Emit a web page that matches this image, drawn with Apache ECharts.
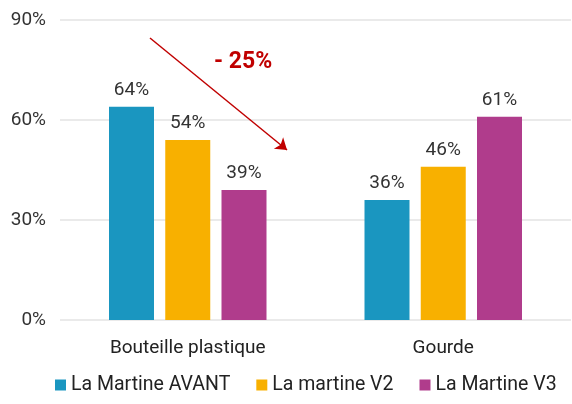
<!DOCTYPE html>
<html>
<head>
<meta charset="utf-8">
<script src="https://cdn.jsdelivr.net/npm/echarts@6/dist/echarts.min.js"></script>
<style>
  html, body {margin: 0; padding: 0; background: #fff;}
  #chart {width: 572px; height: 404px;}
</style>
</head>
<body>
<div id="chart"></div>
<script>
const categories = ['Bouteille plastique', 'Gourde']
const avant = [64, 36]
const v2 = [54, 46]
const v3 = [39, 61]
const yTicks = [0, 30, 60, 90]

const font = 'Roboto'
const myChart = echarts.init(document.getElementById('chart'))

function barSeries(name, data, color) {
  return {
    name: name,
    type: 'bar',
    data: data,
    barWidth: 45,
    barGap: '25%',
    itemStyle: {color: color},
    label: {
      show: true,
      position: 'top',
      distance: 7,
      formatter: '{c}%',
      color: '#333',
      fontFamily: font,
      fontSize: 19
    }
  }
}

let option = {
  animation: false,
  grid: {
    top: 20,
    left: 60,
    right: 1,
    bottom: 84
  },
  legend: {
    bottom: 4,
    left: 50,
    itemWidth: 11,
    itemHeight: 11,
    itemGap: 26,
    icon: 'rect',
    textStyle: {fontFamily: font, fontSize: 19.5, color: '#222'}
  },
  xAxis: {
    type: 'category',
    data: categories,
    axisLine: {show: false},
    axisTick: {show: false},
    axisLabel: {fontFamily: font, fontSize: 19, color: '#222', margin: 19}
  },
  yAxis: {
    type: 'value',
    min: 0,
    max: 90,
    interval: 30,
    axisLabel: {
      formatter: v => yTicks.includes(v) ? v + '%' : '',
      fontFamily: font, fontSize: 19, color: '#333', margin: 14
    },
    splitLine: {lineStyle: {color: '#e3e3e3', width: 1.5}}
  },
  series: [
    barSeries('La Martine AVANT', avant, '#1a96c0'),
    barSeries('La martine V2', v2, '#f8b000'),
    Object.assign(barSeries('La Martine V3', v3, '#b03c8c'), {
      markLine: {
        silent: true,
        symbol: ['none', 'arrow'],
        symbolSize: 11,
        label: {show: false},
        lineStyle: {color: '#c00000', width: 1.5, type: 'solid'},
        data: [[{x: 150, y: 38}, {x: 287, y: 150}]]
      }
    })
  ],
  graphic: [{
    type: 'text',
    left: 214,
    top: 51,
    style: {
      text: '- 25%',
      fill: '#c00000',
      font: 'bold 23px ' + font
    }
  }]
}
myChart.setOption(option)
</script>
</body>
</html>
